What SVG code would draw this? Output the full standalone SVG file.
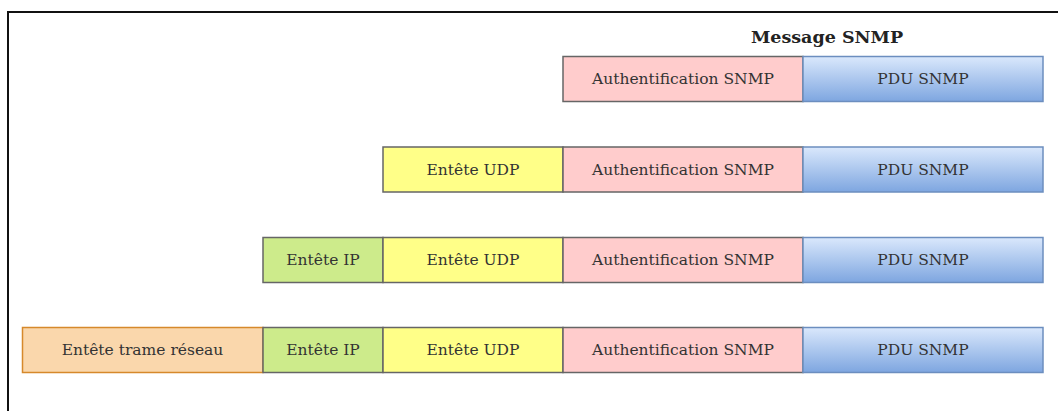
<svg xmlns="http://www.w3.org/2000/svg" width="1058" height="411" viewBox="0 0 1058 411">
<defs>
<linearGradient id="pdu" x1="0" y1="0" x2="0" y2="1">
<stop offset="0" stop-color="#dae8fc"/>
<stop offset="1" stop-color="#7ea6e0"/>
</linearGradient>
<style>
.b{stroke-width:1.5}
.auth{fill:#ffcccc;stroke:#666666}
.pdu{fill:url(#pdu);stroke:#6c8ebf}
.udp{fill:#ffff88;stroke:#666666}
.ip{fill:#cdeb8b;stroke:#666666}
.eth{fill:#fad7ac;stroke:#d6892b}
text{font-family:"DejaVu Serif","Liberation Serif",serif;font-size:15.5px;fill:#333333;text-anchor:middle}
.t{font-weight:bold;font-size:17.5px;fill:#222222}
</style>
</defs>
<rect x="0" y="0" width="1058" height="411" fill="#ffffff"/>
<path d="M8 415 V12 H1062" fill="none" stroke="#111111" stroke-width="2"/>
<g id="title"><text class="t" x="827" y="43">Message SNMP</text></g>
<g id="row1">
<g id="r1-auth"><rect class="b auth" x="563" y="56.5" width="240" height="45"/><text x="683" y="84">Authentification SNMP</text></g>
<g id="r1-pdu"><rect class="b pdu" x="803" y="56.5" width="240" height="45"/><text x="923" y="84">PDU SNMP</text></g>
</g>
<g id="row2">
<g id="r2-udp"><rect class="b udp" x="383" y="147" width="180" height="45"/><text x="473" y="174.5">Entête UDP</text></g>
<g id="r2-auth"><rect class="b auth" x="563" y="147" width="240" height="45"/><text x="683" y="174.5">Authentification SNMP</text></g>
<g id="r2-pdu"><rect class="b pdu" x="803" y="147" width="240" height="45"/><text x="923" y="174.5">PDU SNMP</text></g>
</g>
<g id="row3">
<g id="r3-ip"><rect class="b ip" x="263" y="237.5" width="120" height="45"/><text x="323" y="265">Entête IP</text></g>
<g id="r3-udp"><rect class="b udp" x="383" y="237.5" width="180" height="45"/><text x="473" y="265">Entête UDP</text></g>
<g id="r3-auth"><rect class="b auth" x="563" y="237.5" width="240" height="45"/><text x="683" y="265">Authentification SNMP</text></g>
<g id="r3-pdu"><rect class="b pdu" x="803" y="237.5" width="240" height="45"/><text x="923" y="265">PDU SNMP</text></g>
</g>
<g id="row4">
<g id="r4-eth"><rect class="b eth" x="22.5" y="327.5" width="240.5" height="45"/><text x="142.5" y="355">Entête trame réseau</text></g>
<g id="r4-ip"><rect class="b ip" x="263" y="327.5" width="120" height="45"/><text x="323" y="355">Entête IP</text></g>
<g id="r4-udp"><rect class="b udp" x="383" y="327.5" width="180" height="45"/><text x="473" y="355">Entête UDP</text></g>
<g id="r4-auth"><rect class="b auth" x="563" y="327.5" width="240" height="45"/><text x="683" y="355">Authentification SNMP</text></g>
<g id="r4-pdu"><rect class="b pdu" x="803" y="327.5" width="240" height="45"/><text x="923" y="355">PDU SNMP</text></g>
</g>
</svg>
